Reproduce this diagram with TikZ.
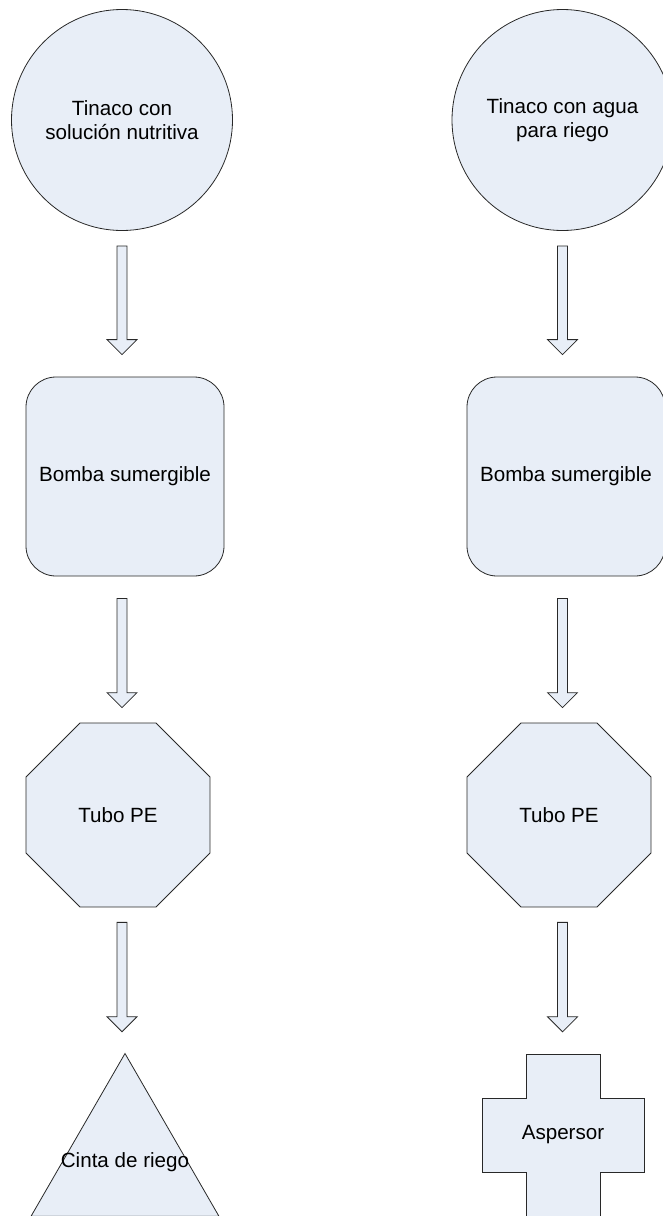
\documentclass[tikz,border=0pt]{standalone}
\usepackage{fontspec}
\setmainfont{Liberation Sans}
\usepackage{tikz}
\usetikzlibrary{shapes.geometric,calc}
\definecolor{azulclaro}{RGB}{232,238,247}
\definecolor{borde}{RGB}{40,40,40}

\begin{document}
\begin{tikzpicture}[x=1pt, y=-1pt,
    font=\fontsize{20.6}{24.5}\selectfont,
    forma/.style = {draw=borde, fill=azulclaro, line width=0.8pt},
    tanque/.style = {forma, circle, minimum size=221pt, align=center},
    bomba/.style = {forma, rectangle, rounded corners=30pt,
      minimum width=198pt, minimum height=199pt},
    tubo/.style = {forma, regular polygon, regular polygon sides=8,
      minimum size=199pt},
    cinta/.style = {forma, regular polygon, regular polygon sides=3,
      minimum size=217pt, inner sep=0pt},
    flecha/.style = {forma, to path={let \p1=(\tikztostart), \p2=(\tikztotarget) in
      (\x1-5pt,\y1) -- (\x1+5pt,\y1) -- (\x1+5pt,\y2+15pt) -- (\x1+15pt,\y2+15pt)
      -- (\x1,\y2) -- (\x1-15pt,\y2+15pt) -- (\x1-5pt,\y2+15pt) -- cycle}}]
  \useasboundingbox (0,0) rectangle (663,1216);

  % columna de la solucion nutritiva
  \node[tanque] (t1) at (122,120) {Tinaco con\\solución nutritiva};
  \node[bomba] (b1) at (125,476.5) {Bomba sumergible};
  \node[tubo] (o1) at (118,815) {Tubo PE};
  \node[cinta, label={center:Cinta de riego}] (c1) at (125,1162) {};

  % columna del agua para riego
  \node[tanque] (t2) at (562.5,120) {Tinaco con agua\\para riego};
  \node[bomba] (b2) at (566,476.5) {Bomba sumergible};
  \node[tubo] (o2) at (559,815) {Tubo PE};
  \path[forma, shift={(563,1135)}] (-37,-81) -- (37,-81) -- (37,-37) -- (81,-37)
    -- (81,37) -- (37,37) -- (37,81) -- (-37,81) -- (-37,37) -- (-81,37)
    -- (-81,-37) -- (-37,-37) -- cycle;
  \node[minimum size=162pt] (a2) at (563,1135) {Aspersor};

  % flechas
  \draw[flecha] ($(t1.south)+(0,15)$) to ($(b1.north)-(0,22)$);
  \draw[flecha] ($(t1 |- b1.south)+(0,22)$) to ($(o1.north)-(0,15)$);
  \draw[flecha] ($(t1 |- o1.south)+(0,15)$) to ($(c1.north)-(0,21)$);
  \draw[flecha] ($(t2.south)+(0,15)$) to ($(b2.north)-(0,22)$);
  \draw[flecha] ($(t2 |- b2.south)+(0,22)$) to ($(o2.north)-(0,15)$);
  \draw[flecha] ($(t2 |- o2.south)+(0,15)$) to ($(a2.north)-(0,22)$);
\end{tikzpicture}
\end{document}
